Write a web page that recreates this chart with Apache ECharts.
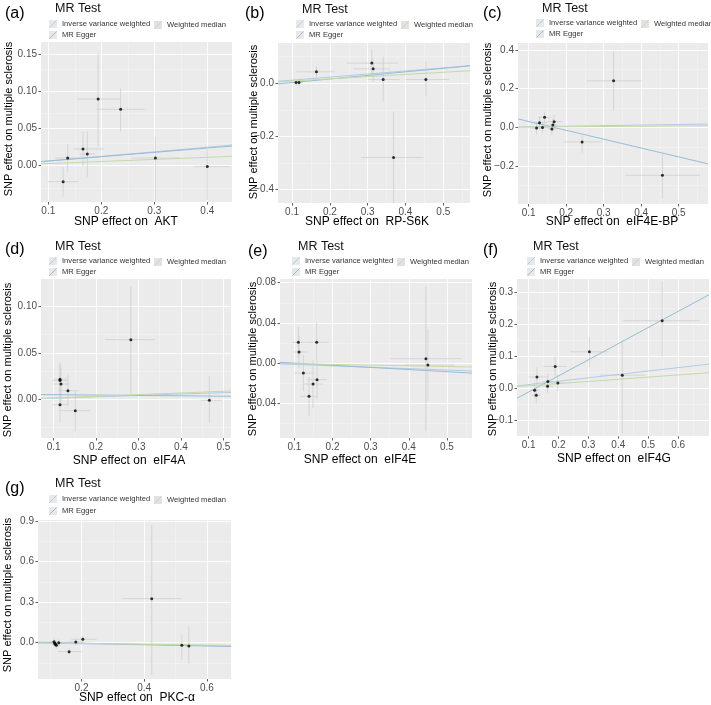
<!DOCTYPE html>
<html><head><meta charset="utf-8">
<script src="https://cdn.jsdelivr.net/npm/echarts@6/dist/echarts.min.js"></script>
<style>html,body{margin:0;padding:0;background:#fff}#c{width:711px;height:705px}</style>
</head><body><div id="c"></div>
<script>
// ---------- DATA ----------
const panelLabels = ['(a)', '(b)', '(c)', '(d)', '(e)', '(f)', '(g)'];
const exposures = ['AKT', 'RP-S6K', 'eIF4E-BP', 'eIF4A', 'eIF4E', 'eIF4G', 'PKC-α'];
const outcomeName = 'SNP effect on multiple sclerosis';
const legendTitle = 'MR Test';
const methods = ['Inverse variance weighted', 'MR Egger', 'Weighted median'];

// (a) AKT
const aX   = [0.128, 0.1365, 0.1654, 0.1736, 0.194, 0.2365, 0.302, 0.400];
const aY   = [-0.0216, 0.0103, 0.0225, 0.0157, 0.0898, 0.0759, 0.0103, -0.0013];
const aXlo = [0.099, 0.113, 0.147, 0.160, 0.155, 0.191, 0.257, 0.374];
const aXhi = [0.157, 0.160, 0.204, 0.188, 0.235, 0.282, 0.348, 0.443];
const aYlo = [-0.042, -0.009, -0.001, -0.015, 0.0256, 0.046, -0.0485, -0.046];
const aYhi = [-0.002, 0.029, 0.046, 0.046, 0.151, 0.104, 0.039, 0.022];
// (b) RP-S6K
const bX   = [0.1106, 0.1185, 0.1645, 0.311, 0.3146, 0.341, 0.454, 0.3684];
const bY   = [0.0025, 0.0025, 0.0428, 0.0755, 0.054, 0.0138, 0.0138, -0.279];
const bXlo = [0.100, 0.108, 0.111, 0.244, 0.262, 0.300, 0.400, 0.283];
const bXhi = [0.121, 0.129, 0.213, 0.381, 0.360, 0.385, 0.515, 0.447];
const bYlo = [-0.010, -0.012, 0.023, 0.025, 0.006, -0.069, -0.050, -0.453];
const bYhi = [0.015, 0.017, 0.063, 0.126, 0.094, 0.100, 0.082, -0.107];
// (c) eIF4E-BP
const cX   = [0.1212, 0.129, 0.137, 0.1425, 0.162, 0.1646, 0.168, 0.2425, 0.3265, 0.4566];
const cY   = [-0.0035, 0.0243, 0.0, 0.052, -0.0087, 0.0122, 0.0296, -0.0748, 0.24, -0.247];
const cXlo = [0.105, 0.110, 0.118, 0.128, 0.150, 0.150, 0.150, 0.193, 0.255, 0.357];
const cXhi = [0.138, 0.150, 0.158, 0.160, 0.178, 0.180, 0.190, 0.295, 0.401, 0.556];
const cYlo = [-0.035, -0.010, -0.030, 0.020, -0.040, -0.020, -0.010, -0.130, 0.087, -0.365];
const cYhi = [0.028, 0.058, 0.030, 0.080, 0.020, 0.045, 0.065, -0.043, 0.391, -0.139];
// (d) eIF4A
const dX   = [0.115, 0.115, 0.1173, 0.1337, 0.115, 0.151, 0.282, 0.467];
const dY   = [0.0218, 0.0204, 0.0168, 0.0096, -0.0054, -0.0118, 0.0643, -0.0007];
const dXlo = [0.100, 0.098, 0.100, 0.110, 0.098, 0.116, 0.222, 0.447];
const dXhi = [0.130, 0.132, 0.135, 0.158, 0.132, 0.186, 0.339, 0.496];
const dYlo = [0.002, -0.003, -0.006, -0.007, -0.024, -0.034, 0.007, -0.025];
const dYhi = [0.040, 0.038, 0.035, 0.027, 0.012, 0.010, 0.121, 0.025];
// (e) eIF4E
const eX   = [0.1105, 0.1123, 0.1236, 0.1586, 0.1595, 0.149, 0.1385, 0.4449, 0.4501];
const eY   = [0.0206, 0.011, -0.010, 0.0206, -0.0166, -0.0209, -0.0332, 0.0043, -0.002];
const eXlo = [0.095, 0.098, 0.100, 0.130, 0.135, 0.125, 0.115, 0.351, 0.390];
const eXhi = [0.128, 0.135, 0.150, 0.190, 0.185, 0.175, 0.160, 0.539, 0.520];
const eYlo = [0.005, -0.005, -0.028, 0.002, -0.036, -0.045, -0.053, -0.068, -0.038];
const eYhi = [0.036, 0.027, 0.008, 0.040, 0.002, 0.003, -0.014, 0.076, 0.034];
// (f) eIF4G
const fX   = [0.12, 0.1256, 0.1278, 0.1633, 0.1644, 0.1889, 0.1978, 0.3033, 0.4133, 0.5467];
const fY   = [-0.007, -0.0227, 0.0347, 0.0055, 0.0201, 0.0671, 0.0159, 0.1131, 0.0399, 0.2102];
const fXlo = [0.105, 0.110, 0.100, 0.145, 0.145, 0.150, 0.175, 0.239, 0.339, 0.417];
const fXhi = [0.135, 0.140, 0.165, 0.182, 0.185, 0.228, 0.220, 0.367, 0.489, 0.672];
const fYlo = [-0.030, -0.048, 0.005, -0.015, -0.005, 0.035, -0.010, 0.065, -0.142, 0.098];
const fYhi = [0.016, 0.002, 0.064, 0.026, 0.045, 0.099, 0.042, 0.160, 0.150, 0.333];
// (g) PKC-α
const gX   = [0.1125, 0.1147, 0.1168, 0.12, 0.1275, 0.1605, 0.1819, 0.2043, 0.424, 0.52, 0.5424];
const gY   = [0.0074, -0.005, -0.0123, -0.0197, 0.0, -0.0666, 0.005, 0.0247, 0.3254, -0.0197, -0.0247];
const gXlo = [0.100, 0.103, 0.105, 0.108, 0.115, 0.125, 0.160, 0.168, 0.328, 0.505, 0.530];
const gXhi = [0.125, 0.127, 0.129, 0.132, 0.140, 0.200, 0.205, 0.248, 0.520, 0.535, 0.555];
const gYlo = [-0.020, -0.030, -0.035, -0.045, -0.025, -0.090, -0.020, 0.000, -0.239, -0.128, -0.153];
const gYhi = [0.035, 0.020, 0.010, 0.005, 0.025, -0.043, 0.030, 0.050, 0.870, 0.057, 0.118];

// MR estimates per panel (a..g)
const ivwSlope     = [0.062, 0.115, 0.030, 0.015, -0.014, 0.106, -0.040];
const eggerSlope   = [0.058, 0.134, -0.457, -0.004, -0.0213, 0.504, -0.050];
const eggerInterc  = [0.0005, -0.011, 0.0763, 0.0057, 0.002, -0.063, 0.006];
const wmSlope      = [0.028, 0.082, 0.015, 0.018, -0.007, 0.068, -0.030];

// axis ranges
const xRanges = [[0.0862, 0.4466], [0.0629, 0.5706], [0.0717, 0.578], [0.0702, 0.518], [0.0624, 0.5657], [0.0611, 0.7033], [0.0613, 0.6768]];
const yRanges = [[-0.049, 0.1666], [-0.450, 0.151], [-0.395, 0.435], [-0.0411, 0.1293], [-0.0747, 0.0837], [-0.1501, 0.3407], [-0.269, 0.907]];

// tick labels
const xTickLabels = [
  ['0.1', '0.2', '0.3', '0.4'],
  ['0.1', '0.2', '0.3', '0.4', '0.5'],
  ['0.1', '0.2', '0.3', '0.4', '0.5'],
  ['0.1', '0.2', '0.3', '0.4', '0.5'],
  ['0.1', '0.2', '0.3', '0.4', '0.5'],
  ['0.1', '0.2', '0.3', '0.4', '0.5', '0.6'],
  ['0.2', '0.4', '0.6']
];
const yTickLabels = [
  ['0.00', '0.05', '0.10', '0.15'],
  ['−0.4', '−0.2', '0.0'],
  ['−0.2', '0.0', '0.2', '0.4'],
  ['0.00', '0.05', '0.10'],
  ['−0.04', '0.00', '0.04', '0.08'],
  ['−0.1', '0.0', '0.1', '0.2', '0.3'],
  ['0.0', '0.3', '0.6', '0.9']
];

// ---------- LAYOUT / STYLE ----------
const FONT = 'Liberation Sans, Arial, Helvetica, sans-serif';
const layout = [
  {grid: {left: 41,  top: 42,  width: 191, height: 160}, lab: [5, 14],   mr: [55, 9],    r1: 24,  r2: 35,  xn: [126, 222], yn: [9, 119]},
  {grid: {left: 278, top: 43,  width: 192, height: 160}, lab: [245, 14], mr: [302, 10],  r1: 24,  r2: 35,  xn: [367, 222], yn: [254, 122]},
  {grid: {left: 518, top: 43,  width: 190, height: 161}, lab: [483, 14], mr: [542, 9],   r1: 23,  r2: 34,  xn: [612, 222], yn: [488, 120]},
  {grid: {left: 41,  top: 279, width: 190, height: 159}, lab: [5, 250],  mr: [55, 247],  r1: 261, r2: 272, xn: [129, 461], yn: [8, 360]},
  {grid: {left: 280, top: 279, width: 192, height: 159}, lab: [248, 252],mr: [298, 247], r1: 261, r2: 272, xn: [360, 460], yn: [253, 359]},
  {grid: {left: 517, top: 279, width: 192, height: 157}, lab: [483, 251],mr: [533, 247], r1: 261, r2: 272, xn: [614, 459], yn: [493, 359]},
  {grid: {left: 38,  top: 520, width: 193, height: 159}, lab: [5, 489],  mr: [55, 484],  r1: 499, r2: 511, xn: [137, 698], yn: [8, 595]}
];
const methodColors = ['#b3cde2', '#97bdd6', '#c6daa8'];
const BG = '#EBEBEB';

// ---------- BUILD ----------
const pts = [
  [aX, aY, aXlo, aXhi, aYlo, aYhi],
  [bX, bY, bXlo, bXhi, bYlo, bYhi],
  [cX, cY, cXlo, cXhi, cYlo, cYhi],
  [dX, dY, dXlo, dXhi, dYlo, dYhi],
  [eX, eY, eXlo, eXhi, eYlo, eYhi],
  [fX, fY, fXlo, fXhi, fYlo, fYhi],
  [gX, gY, gXlo, gXhi, gYlo, gYhi]
];
const num = s => parseFloat(s.replace('−', '-'));
function minors(majors, range) {
  const step = majors[1] - majors[0];
  const out = [];
  for (let v = majors[0] - step / 2; v <= majors[majors.length - 1] + step; v += step) {
    if (v > range[0] && v < range[1]) out.push(+v.toFixed(6));
  }
  return out;
}
function labelFor(labels) {
  const vals = labels.map(num);
  return v => { const i = vals.findIndex(t => Math.abs(t - v) < 1e-9); return i >= 0 ? labels[i] : ''; };
}

const grids = [], xAxes = [], yAxes = [], series = [], graphics = [];
layout.forEach((L, i) => {
  grids.push(Object.assign({show: true, backgroundColor: BG, borderWidth: 0}, L.grid));
  const xt = xTickLabels[i].map(num), yt = yTickLabels[i].map(num);
  const xr = xRanges[i], yr = yRanges[i];
  const axisCommon = {
    type: 'value', gridIndex: i, axisLine: {show: false, onZero: false}, splitLine: {show: false}, scale: true
  };
  xAxes.push(Object.assign({}, axisCommon, {
    position: 'bottom',
    min: xr[0], max: xr[1],
    axisTick: {show: true, length: 2.5, lineStyle: {color: '#333', width: 0.8}, customValues: xt},
    axisLabel: {customValues: xt, formatter: labelFor(xTickLabels[i]), fontSize: 10, color: '#4d4d4d', margin: 4, fontFamily: FONT, showMinLabel: true, showMaxLabel: true}
  }));
  yAxes.push(Object.assign({}, axisCommon, {
    position: 'left',
    min: yr[0], max: yr[1],
    axisTick: {show: true, length: 2.5, lineStyle: {color: '#333', width: 0.8}, customValues: yt},
    axisLabel: {customValues: yt, formatter: labelFor(yTickLabels[i]), fontSize: 10, color: '#4d4d4d', margin: 4, fontFamily: FONT, showMinLabel: true, showMaxLabel: true}
  }));

  const [X, Y, XL, XH, YL, YH] = pts[i];
  const rows = X.map((x, k) => [x, Y[k], XL[k], XH[k], YL[k], YH[k]]);

  // gridlines (major + minor) through the axes' scales
  const gl = [];
  const minorStyle = {color: 'rgba(255,255,255,0.45)', width: 0.6, type: 'solid'};
  const majorStyle = {color: 'rgba(255,255,255,0.85)', width: 1, type: 'solid'};
  minors(xt, xr).forEach(v => gl.push({xAxis: v, lineStyle: minorStyle}));
  minors(yt, yr).forEach(v => gl.push({yAxis: v, lineStyle: minorStyle}));
  xt.forEach(v => gl.push({xAxis: v, lineStyle: majorStyle}));
  yt.forEach(v => gl.push({yAxis: v, lineStyle: majorStyle}));

  // error bars
  series.push({
    type: 'custom', xAxisIndex: i, yAxisIndex: i, z: 3, silent: true, animation: false,
    data: rows,
    encode: {x: 0, y: 1},
    renderItem: (params, api) => {
      const cs = params.coordSys;
      const rect = {x: cs.x, y: cs.y, width: cs.width, height: cs.height};
      const x = api.value(0), y = api.value(1);
      const h = echarts.graphic.clipPointsByRect([api.coord([api.value(2), y]), api.coord([api.value(3), y])], rect);
      const v = echarts.graphic.clipPointsByRect([api.coord([x, api.value(4)]), api.coord([x, api.value(5)])], rect);
      const st = {stroke: '#cfcfcf', lineWidth: 0.8};
      return {type: 'group', children: [
        {type: 'line', shape: {x1: h[0][0], y1: h[0][1], x2: h[1][0], y2: h[1][1]}, style: st},
        {type: 'line', shape: {x1: v[0][0], y1: v[0][1], x2: v[1][0], y2: v[1][1]}, style: st}
      ]};
    },
    markLine: {silent: true, z: 1, symbol: ['none', 'none'], label: {show: false}, animation: false,
      lineStyle: {type: 'solid'}, emphasis: {disabled: true}, data: gl}
  });

  // MR lines
  const lineDefs = [
    [ivwSlope[i], 0, methodColors[0]],
    [eggerSlope[i], eggerInterc[i], methodColors[1]],
    [wmSlope[i], 0, methodColors[2]]
  ];
  lineDefs.forEach(([m, b, col], j) => {
    series.push({
      type: 'line', name: methods[j], xAxisIndex: i, yAxisIndex: i, z: 4, clip: true, silent: true,
      showSymbol: false, symbol: 'none', animation: false,
      lineStyle: {color: col, width: 1},
      data: [[xr[0], b + m * xr[0]], [xr[1], b + m * xr[1]]]
    });
  });

  // points
  series.push({
    type: 'scatter', xAxisIndex: i, yAxisIndex: i, z: 5, silent: true, animation: false,
    symbolSize: 3, itemStyle: {color: '#000'},
    data: rows.map(r => [r[0], r[1]])
  });

  // texts
  graphics.push({type: 'text', x: L.lab[0], y: L.lab[1], style: {text: panelLabels[i], fontSize: 16, fontFamily: FONT, fill: '#000', verticalAlign: 'middle', align: 'left'}});
  graphics.push({type: 'text', x: L.mr[0], y: L.mr[1], style: {text: legendTitle, fontSize: 12.5, fontFamily: FONT, fill: '#111', verticalAlign: 'middle', align: 'left'}});
  const items = [
    {m: 0, x: L.mr[0] - 6, y: L.r1},
    {m: 1, x: L.mr[0] - 6, y: L.r2},
    {m: 2, x: L.mr[0] + 99, y: L.r1 + 1}
  ];
  items.forEach(it => {
    graphics.push({type: 'rect', x: it.x, y: it.y - 4, shape: {width: 8, height: 8}, style: {fill: it.m === 2 ? '#e2e2e2' : '#e8e8e8'}, silent: true});
    graphics.push({type: 'line', x: it.x, y: it.y - 4, shape: {x1: 0.5, y1: 7.5, x2: 7.5, y2: 0.5}, style: {stroke: methodColors[it.m], lineWidth: 1}, silent: true});
    graphics.push({type: 'text', x: it.x + 13, y: it.y, style: {text: methods[it.m], fontSize: 7.6, fontFamily: FONT, fill: '#333', verticalAlign: 'middle', align: 'left'}});
  });
  graphics.push({type: 'text', x: L.xn[0], y: L.xn[1], style: {text: 'SNP effect on  ' + exposures[i], fontSize: 12, fontFamily: FONT, fill: '#000', verticalAlign: 'middle', align: 'center'}});
  graphics.push({type: 'text', x: L.yn[0], y: L.yn[1], rotation: Math.PI / 2, style: {text: outcomeName, fontSize: 11, fontFamily: FONT, fill: '#000', verticalAlign: 'middle', align: 'center'}});
});

const chart = echarts.init(document.getElementById('c'), null, {renderer: 'canvas'});
chart.setOption({
  animation: false,
  backgroundColor: '#fff',
  textStyle: {fontFamily: FONT},
  grid: grids, xAxis: xAxes, yAxis: yAxes, series: series,
  graphic: {elements: graphics}
});
</script></body></html>
